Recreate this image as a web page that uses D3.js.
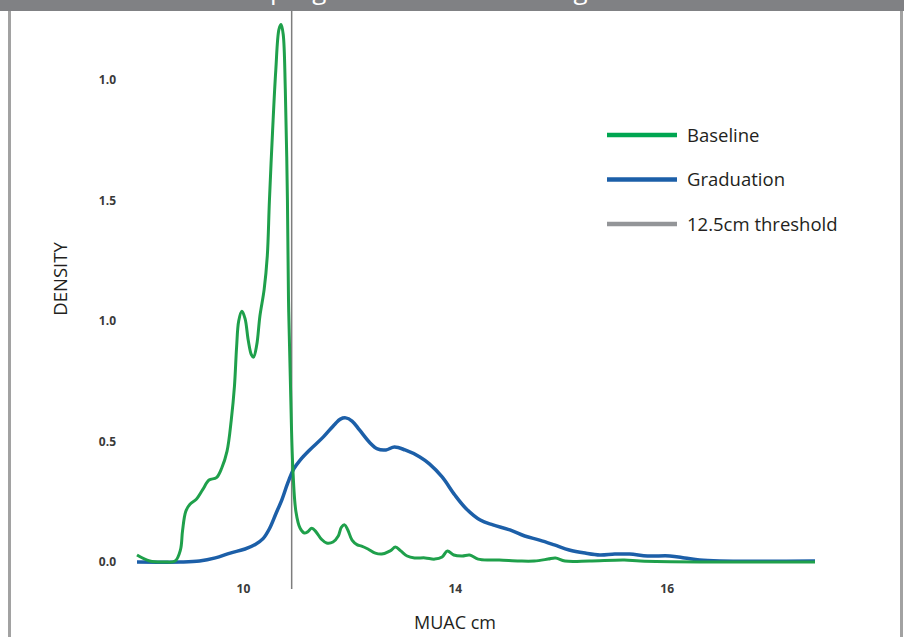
<!DOCTYPE html>
<html>
<head>
<meta charset="utf-8">
<script src="https://cdn.jsdelivr.net/npm/d3@7"></script>
<style>
  body { margin: 0; background: #fff; }
  svg { display: block; font-family: "Open Sans", sans-serif; }
</style>
</head>
<body>
<svg id="chart" width="904" height="637"></svg>
<script>
// the source axis labels are not linear (10, 14, 16 evenly spaced),
// so x values are kept in the picture's own position units
const xTicks = [10, 12, 14];
const xTickLabels = ["10", "14", "16"];
const yTicks = [0, 0.5, 1, 1.5, 2];
const yTickLabels = ["0.0", "0.5", "1.0", "1.5", "1.0"];
const threshold = 10.46;

const baseline = [
  [9.00, 0.029], [9.12, 0.004], [9.26, 0], [9.36, 0.004], [9.41, 0.05],
  [9.43, 0.13], [9.46, 0.21], [9.50, 0.24], [9.56, 0.26], [9.62, 0.30],
  [9.68, 0.34], [9.75, 0.35], [9.80, 0.39], [9.85, 0.46], [9.89, 0.59],
  [9.92, 0.73], [9.94, 0.89], [9.96, 1.00], [9.99, 1.04], [10.02, 1.01],
  [10.05, 0.92], [10.08, 0.86], [10.10, 0.85], [10.13, 0.90], [10.16, 1.02],
  [10.20, 1.13], [10.23, 1.27], [10.25, 1.50], [10.28, 1.79], [10.31, 2.04],
  [10.34, 2.21], [10.36, 2.23], [10.38, 2.19], [10.40, 1.96], [10.42, 1.50],
  [10.43, 1.09], [10.45, 0.71], [10.47, 0.40], [10.50, 0.21], [10.54, 0.14],
  [10.58, 0.12], [10.61, 0.125], [10.65, 0.14], [10.69, 0.125], [10.74, 0.095],
  [10.79, 0.079], [10.85, 0.083], [10.90, 0.108], [10.93, 0.145], [10.96, 0.154],
  [10.99, 0.133], [11.03, 0.091], [11.08, 0.071], [11.12, 0.066], [11.18, 0.054],
  [11.25, 0.037], [11.31, 0.033], [11.39, 0.046], [11.44, 0.062], [11.49, 0.046],
  [11.55, 0.025], [11.62, 0.017], [11.72, 0.017], [11.81, 0.012], [11.88, 0.021],
  [11.93, 0.046], [11.99, 0.029], [12.07, 0.025], [12.14, 0.029], [12.22, 0.012],
  [12.33, 0.008], [12.42, 0.008], [12.61, 0.004], [12.75, 0.004], [12.88, 0.012],
  [12.95, 0.017], [13.04, 0.004], [13.27, 0.004], [13.60, 0.008], [13.75, 0.004],
  [14.31, 0], [15.40, 0]
];

const graduation = [
  [9.00, 0], [9.41, 0], [9.59, 0.004], [9.74, 0.017], [9.88, 0.037],
  [10.02, 0.054], [10.12, 0.074], [10.19, 0.097], [10.25, 0.138], [10.31, 0.199],
  [10.37, 0.261], [10.42, 0.324], [10.48, 0.386], [10.54, 0.423], [10.63, 0.465],
  [10.75, 0.515], [10.87, 0.573], [10.92, 0.593], [10.97, 0.598], [11.03, 0.585],
  [11.10, 0.548], [11.20, 0.494], [11.27, 0.469], [11.35, 0.465], [11.43, 0.477],
  [11.53, 0.465], [11.67, 0.436], [11.76, 0.407], [11.88, 0.353], [12.00, 0.278],
  [12.11, 0.220], [12.24, 0.174], [12.36, 0.154], [12.52, 0.133], [12.66, 0.108],
  [12.80, 0.091], [12.94, 0.071], [13.08, 0.050], [13.23, 0.037], [13.37, 0.029],
  [13.51, 0.033], [13.65, 0.033], [13.82, 0.025], [14.03, 0.025], [14.17, 0.017],
  [14.31, 0.008], [14.50, 0.004], [15.40, 0.004]
];

const legendItems = [
  { label: "Baseline", color: "#00a651" },
  { label: "Graduation", color: "#1c5fa8" },
  { label: "12.5cm threshold", color: "#939598" }
];

const svg = d3.select("#chart");

const x = d3.scaleLinear().domain([9, 15.4]).range([137, 815]);
const y = d3.scaleLinear().domain([0, 2]).range([562, 80]);

// frame: grey title bar and side borders
svg.append("rect")
  .attr("x", 0).attr("y", 0)
  .attr("width", 904).attr("height", 11)
  .attr("fill", "#808184");
svg.append("line")
  .attr("x1", 9.5).attr("x2", 9.5).attr("y1", 11).attr("y2", 637)
  .attr("stroke", "#a2a2a2").attr("stroke-width", 3);
svg.append("line")
  .attr("x1", 901.5).attr("x2", 901.5).attr("y1", 11).attr("y2", 637)
  .attr("stroke", "#a2a2a2").attr("stroke-width", 3);

// title, cut off by the top of the picture: only its descenders show
const title = svg.append("text")
  .attr("y", -1.5)
  .attr("fill", "#fff")
  .style("font-size", "26px")
  .text("In the program at baseline and graduation");
const pIdx = title.text().indexOf("program");
const pOffset = title.node().getSubStringLength(0, pIdx);
title.attr("x", 270 - pOffset);

// axes
const yAxis = d3.axisLeft(y)
  .tickValues(yTicks)
  .tickSize(0)
  .tickPadding(0)
  .tickFormat((d, i) => yTickLabels[i]);
svg.append("g")
  .attr("transform", "translate(116,0)")
  .call(yAxis)
  .call(g => g.select(".domain").remove())
  .selectAll("text")
  .attr("fill", "#3a3a3a")
  .style("font-family", "'Open Sans', sans-serif")
  .style("font-size", "12px")
  .style("font-weight", "bold");

const xAxis = d3.axisBottom(x)
  .tickValues(xTicks)
  .tickSize(0)
  .tickPadding(0)
  .tickFormat((d, i) => xTickLabels[i]);
svg.append("g")
  .attr("transform", "translate(0,584)")
  .call(xAxis)
  .call(g => g.select(".domain").remove())
  .selectAll("text")
  .attr("fill", "#3a3a3a")
  .style("font-family", "'Open Sans', sans-serif")
  .style("font-size", "12px")
  .style("font-weight", "bold");

svg.append("text")
  .attr("x", 455).attr("y", 629)
  .attr("text-anchor", "middle")
  .attr("fill", "#231f20")
  .style("font-size", "18px")
  .text("MUAC cm");

svg.append("text")
  .attr("transform", "translate(67,279) rotate(-90)")
  .attr("text-anchor", "middle")
  .attr("fill", "#231f20")
  .style("font-size", "18.5px")
  .text("DENSITY");

// threshold
svg.append("line")
  .attr("x1", x(threshold)).attr("x2", x(threshold))
  .attr("y1", 11).attr("y2", 589)
  .attr("stroke", "#7d7d7d").attr("stroke-width", 1.5);

const line = d3.line()
  .x(d => x(d[0]))
  .y(d => y(d[1]))
  .curve(d3.curveCatmullRom.alpha(0.5));

svg.append("path")
  .datum(graduation)
  .attr("d", line)
  .attr("fill", "none")
  .attr("stroke", "#1c5fa8")
  .attr("stroke-width", 3.5);

svg.append("path")
  .datum(baseline)
  .attr("d", line)
  .attr("fill", "none")
  .attr("stroke", "#1fa04b")
  .attr("stroke-width", 3);

// legend
const legend = svg.append("g").attr("transform", "translate(607,135)");
const item = legend.selectAll("g")
  .data(legendItems)
  .enter()
  .append("g")
  .attr("transform", (d, i) => `translate(0,${i * 44.5})`);
item.append("line")
  .attr("x1", 0).attr("x2", 70)
  .attr("stroke", d => d.color)
  .attr("stroke-width", 4.5);
item.append("text")
  .attr("x", 80).attr("y", 6.5)
  .attr("fill", "#231f20")
  .style("font-size", "18.5px")
  .text(d => d.label);
</script>
</body>
</html>
